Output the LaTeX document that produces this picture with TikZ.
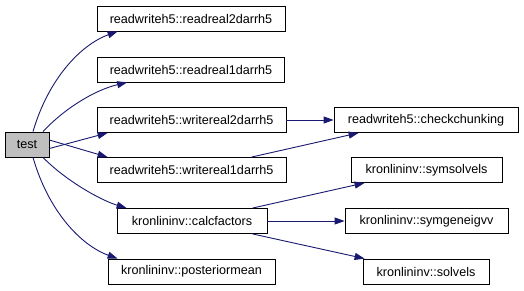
\documentclass[tikz,border=0pt]{standalone}
\usepackage{fontspec}
\setmainfont{Liberation Sans}
\usetikzlibrary{arrows.meta}
\definecolor{edgeblue}{RGB}{25,25,112}
\tikzset{fn/.style={draw,shape=rectangle,inner sep=0pt,minimum height=25pt,line width=0.8pt,
    font=\fontsize{12.6}{14}\selectfont},
  call/.style={->,draw=edgeblue,line width=0.9pt}}

\begin{document}
\begin{tikzpicture}[x=1pt,y=-1pt,>={Triangle[length=10pt,width=7pt]}]
\useasboundingbox (0,0) rectangle (524,291);

% caller
\node[fn,fill=black!25,minimum width=44pt] (test) at (27,144.5) {test};

% first level
\node[fn,minimum width=188pt] (rd2) at (191,18.5) {readwriteh5::readreal2darrh5};
\node[fn,minimum width=187pt] (rd1) at (191,69.5) {readwriteh5::readreal1darrh5};
\node[fn,minimum width=189pt] (wr2) at (191.5,120) {readwriteh5::writereal2darrh5};
\node[fn,minimum width=189pt] (wr1) at (191.5,170) {readwriteh5::writereal1darrh5};
\node[fn,minimum width=150pt] (calc) at (192,221) {kronlininv::calcfactors};
\node[fn,minimum width=167pt] (post) at (191.5,271.5) {kronlininv::posteriormean};

% second level
\node[fn,minimum width=184pt] (chunk) at (426,120) {readwriteh5::checkchunking};
\node[fn,minimum width=151pt] (symsol) at (426.5,170) {kronlininv::symsolvels};
\node[fn,minimum width=163pt] (symgen) at (426.5,221) {kronlininv::symgeneigvv};
\node[fn,minimum width=126pt] (solv) at (426,271.5) {kronlininv::solvels};

% calls from test
\draw[call] ([xshift=6pt]test.north) .. controls (48,80) and (80,45) .. ([xshift=21pt]rd2.south west);
\draw[call] ([xshift=16pt]test.north) .. controls (65,108) and (95,90) .. ([xshift=30pt]rd1.south west);
\draw[call] ([yshift=-4pt]test.east) -- ([xshift=11pt]wr2.south west);
\draw[call] ([yshift=4.5pt]test.east) -- ([xshift=11pt]wr1.north west);
\draw[call] ([xshift=16pt]test.south) .. controls (65,180) and (100,200) .. ([xshift=10pt]calc.north west);
\draw[call] ([xshift=6pt]test.south) .. controls (48,210) and (80,245) .. ([xshift=10pt]post.north west);

% calls further down
\draw[call] (wr2.east) -- (chunk.west);
\draw[call] ([xshift=-35pt]wr1.north east) -- ([xshift=25pt]chunk.south west);
\draw[call] ([xshift=-15pt]calc.north east) -- ([xshift=14pt]symsol.south west);
\draw[call] (calc.east) -- (symgen.west);
\draw[call] ([xshift=-15pt]calc.south east) -- ([xshift=2pt]solv.north west);

\end{tikzpicture}
\end{document}
